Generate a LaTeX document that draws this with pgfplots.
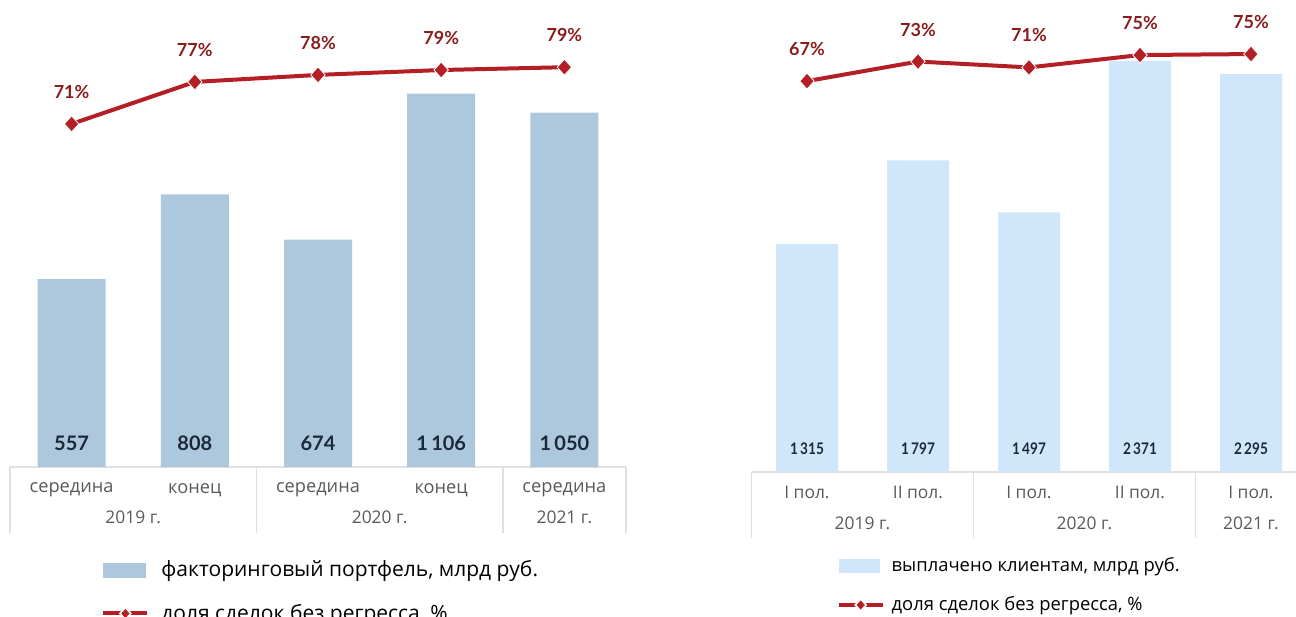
\documentclass[border=0pt]{standalone}
\usepackage{fontspec}
\setmainfont{Open Sans}
\newfontfamily\numfont{Lato}
\usepackage{pgfplots}
\pgfplotsset{compat=1.18}
\definecolor{barA}{HTML}{ADC8DC}
\definecolor{barB}{HTML}{D0E6FB}
\definecolor{lineR}{HTML}{B31F24}
\definecolor{pctR}{HTML}{8A1C1C}
\definecolor{numC}{HTML}{1B2A3A}
\definecolor{catC}{HTML}{595959}
\definecolor{sepC}{HTML}{E0E0E0}
\pgfplotsset{
  base/.style={scale only axis, clip=false, axis x line*=bottom, axis y line=none,
    xmin=-0.5, xmax=4.5, xtick={0,...,4}, major tick length=0pt,
    x axis line style={draw=sepC, line width=0.8pt, -},
    xticklabel style={font=\fontsize{9.1}{10}\selectfont, text=catC, anchor=center, yshift=-11.5pt},
    legend cell align=left,
    legend style={draw=none, fill=none, font=\fontsize{10.5}{12}\selectfont, anchor=north west,
      row sep=8pt, /tikz/every even column/.append style={column sep=0pt},
      nodes={inner xsep=6pt}},
  },
  sec/.style={scale only axis, clip=false, axis lines=none, xmin=-0.5, xmax=4.5},
  pctline/.style={lineR, line width=2pt, mark=diamond*, mark size=4pt,
    mark options={draw=white, fill=lineR, line width=0.4pt, xscale=1.2}},
  pctlegend/.style={lineR, line width=2pt, mark=diamond*, mark size=3pt,
    mark options={draw=white, fill=lineR, line width=0.8pt, xscale=1.2},
    legend image code/.code={\draw[##1, mark repeat=2, mark phase=2] plot coordinates {(0pt,0pt) (11pt,0pt) (22pt,0pt)};}},
  barAlegend/.style={legend image code/.code={\fill[barA] (0pt,-3.75pt) rectangle (21.5pt,3.75pt);}},
  barBlegend/.style={legend image code/.code={\fill[barB] (0pt,-3.5pt) rectangle (20.5pt,3.5pt);}},
}
\begin{document}
\begin{tikzpicture}
\path[use as bounding box] (0,0) rectangle (648pt,308pt);
% ---------------- LEFT ----------------
\begin{axis}[base, at={(5pt,74.5pt)}, anchor=south west, width=308pt, height=233.5pt,
  ymin=0, ymax=1383.7,
  xticklabels={середина,конец,середина,конец,середина},
  legend style={at={(0.138,-0.183)}}]
\addplot[ybar, bar width=34pt, fill=barA, draw=none, barAlegend]
  coordinates {(0,557) (1,808) (2,674) (3,1106) (4,1050)};
\addlegendentry{факторинговый портфель, млрд руб.}
\addlegendimage{pctlegend}
\addlegendentry{доля сделок без регресса, \%}
\addplot[forget plot, draw=none, mark=none, nodes near coords, point meta=explicit symbolic,
  nodes near coords style={anchor=center, yshift=12pt, font=\numfont\bfseries\fontsize{10}{12}\selectfont, text=numC}]
  coordinates {(0,0)[557] (1,0)[808] (2,0)[674] (3,0)[1\,106] (4,0)[1\,050]};
\foreach \s in {-0.5,1.5,3.5,4.5}{
  \edef\tmp{\noexpand\draw[sepC, line width=0.8pt] (axis cs:\s,0) -- ([yshift=-33pt]axis cs:\s,0);}\tmp
}
\node[font=\fontsize{8.7}{10}\selectfont, text=catC] at ([yshift=-25pt]axis cs:0.5,0) {2019 г.};
\node[font=\fontsize{8.7}{10}\selectfont, text=catC] at ([yshift=-25pt]axis cs:2.5,0) {2020 г.};
\node[font=\fontsize{8.7}{10}\selectfont, text=catC] at ([yshift=-25pt]axis cs:4,0) {2021 г.};
\end{axis}
\begin{axis}[sec, at={(5pt,74.5pt)}, anchor=south west, width=308pt, height=233.5pt,
  ymin=22, ymax=88.7]
\addplot[pctline, nodes near coords, point meta=explicit symbolic,
  nodes near coords style={anchor=center, yshift=16pt, font=\numfont\bfseries\fontsize{9}{11}\selectfont, text=pctR}]
  coordinates {(0,71)[71\%] (1,77)[77\%] (2,78)[78\%] (3,78.7)[79\%] (4,79.1)[79\%]};
\end{axis}
% ---------------- RIGHT ----------------
\begin{axis}[base, at={(375.75pt,72pt)}, anchor=south west, width=277.5pt, height=236pt,
  ymin=0, ymax=2722,
  xticklabels={I пол.,II пол.,I пол.,II пол.,I пол.},
  xticklabel style={yshift=1.5pt, font=\fontsize{8.7}{10}\selectfont},
  legend style={at={(0.142,-0.163)}, font=\fontsize{9.2}{11}\selectfont, row sep=7pt, nodes={inner xsep=3.5pt}}]
\addplot[ybar, bar width=31pt, fill=barB, draw=none, barBlegend]
  coordinates {(0,1315) (1,1797) (2,1497) (3,2371) (4,2295)};
\addlegendentry{выплачено клиентам, млрд руб.}
\addlegendimage{pctlegend}
\addlegendentry{доля сделок без регресса, \%}
\addplot[forget plot, draw=none, mark=none, nodes near coords, point meta=explicit symbolic,
  nodes near coords style={anchor=center, yshift=11.5pt, xscale=0.85, font=\numfont\bfseries\fontsize{8}{10}\selectfont, text=numC}]
  coordinates {(0,0)[1\,315] (1,0)[1\,797] (2,0)[1\,497] (3,0)[2\,371] (4,0)[2\,295]};
\foreach \s in {-0.5,1.5,3.5,4.5}{
  \edef\tmp{\noexpand\draw[sepC, line width=0.8pt] (axis cs:\s,0) -- ([yshift=-33pt]axis cs:\s,0);}\tmp
}
\node[font=\fontsize{8.7}{10}\selectfont, text=catC] at ([yshift=-25.5pt]axis cs:0.5,0) {2019 г.};
\node[font=\fontsize{8.7}{10}\selectfont, text=catC] at ([yshift=-25.5pt]axis cs:2.5,0) {2020 г.};
\node[font=\fontsize{8.7}{10}\selectfont, text=catC] at ([yshift=-25.5pt]axis cs:4,0) {2021 г.};
\end{axis}
\begin{axis}[sec, at={(375.75pt,72pt)}, anchor=south west, width=277.5pt, height=236pt,
  ymin=-53, ymax=91.9]
\addplot[pctline, nodes near coords, point meta=explicit symbolic,
  nodes near coords style={anchor=center, yshift=16pt, font=\numfont\bfseries\fontsize{9}{11}\selectfont, text=pctR}]
  coordinates {(0,67)[67\%] (1,73)[73\%] (2,71.2)[71\%] (3,75)[75\%] (4,75.3)[75\%]};
\end{axis}
\end{tikzpicture}
\end{document}
